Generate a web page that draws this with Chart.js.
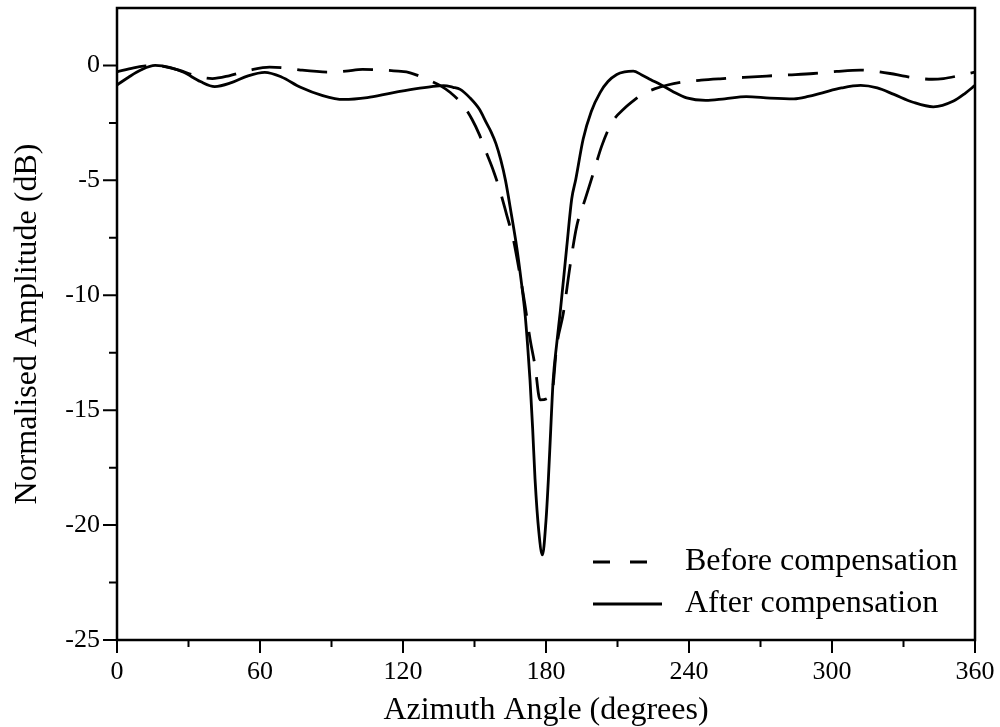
<!DOCTYPE html>
<html>
<head>
<meta charset="utf-8">
<title>Normalised Amplitude vs Azimuth Angle</title>
<script src="https://cdn.jsdelivr.net/npm/chart.js@4.4.1/dist/chart.umd.min.js"></script>
<style>
  html, body { margin: 0; padding: 0; background: #fff; }
  #wrap { width: 1000px; height: 727px; }
</style>
</head>
<body>
<div id="wrap"><canvas id="resultsChart" width="1000" height="727"></canvas></div>
<script>
'use strict';

// Before compensation (dashed curve)
let beforeAngle = [0, 7, 12, 16, 20, 26, 33, 40, 47, 56, 64, 70, 77, 89, 96, 103, 112, 118, 123, 131, 136, 140, 145, 149, 152, 155, 158, 160.7, 163.5, 166.3, 168.4, 171, 173.3, 175.4, 177.5, 182.4, 184.5, 187.3, 190.1, 192.9, 196.4, 199.9, 203.4, 207.6, 212.5, 217.4, 221, 225.8, 231, 237.7, 245, 253, 263, 272.6, 282, 292.2, 302, 311.8, 318, 324.4, 331, 337, 342, 346.8, 353, 360];
let beforeDb = [-0.28, -0.1, -0.02, 0, -0.05, -0.2, -0.45, -0.57, -0.45, -0.2, -0.07, -0.1, -0.2, -0.29, -0.25, -0.17, -0.2, -0.25, -0.32, -0.65, -0.9, -1.19, -1.7, -2.35, -3.0, -3.8, -4.6, -5.45, -6.5, -7.57, -8.72, -10.3, -11.9, -13.07, -14.55, -14.3, -12.2, -10.76, -8.72, -6.99, -5.83, -4.67, -3.5, -2.49, -1.91, -1.48, -1.22, -1.01, -0.85, -0.72, -0.64, -0.58, -0.52, -0.46, -0.41, -0.35, -0.26, -0.2, -0.25, -0.35, -0.48, -0.57, -0.6, -0.57, -0.45, -0.29];

// After compensation (solid curve)
let afterAngle = [0, 5, 10, 16, 22, 28, 35, 41, 48, 55, 62, 69, 77, 86, 95, 105, 115, 125, 132, 137, 141, 144, 148, 152, 155, 157, 159, 161, 163, 165.5, 167.7, 169.5, 171.2, 172.3, 173.3, 174.4, 175.4, 177, 178.5, 180, 181, 182, 183, 184.5, 186, 188.7, 190.8, 192.5, 195.6, 199, 202.7, 206, 209.7, 213, 216.6, 220, 224, 228, 233, 239, 247, 255, 264, 274, 284, 290, 296, 304, 312, 319, 326, 334, 342.5, 351, 356, 360];
let afterDb = [-0.85, -0.5, -0.2, 0, -0.08, -0.3, -0.7, -0.92, -0.75, -0.45, -0.3, -0.5, -0.95, -1.3, -1.48, -1.4, -1.2, -1.02, -0.92, -0.88, -0.95, -1.04, -1.4, -1.9, -2.5, -2.9, -3.4, -4.1, -5.0, -6.5, -7.9, -9.3, -10.8, -12.2, -13.7, -15.8, -18, -20.3, -21.3, -19.8, -18, -15.8, -13.7, -12.1, -10.7, -7.9, -5.8, -4.95, -3.2, -2.0, -1.18, -0.7, -0.39, -0.28, -0.25, -0.4, -0.62, -0.83, -1.12, -1.41, -1.52, -1.45, -1.36, -1.42, -1.45, -1.35, -1.19, -0.98, -0.87, -0.98, -1.26, -1.6, -1.8, -1.55, -1.2, -0.87];

// Tick values and labels
let xTickValues = [0, 60, 120, 180, 240, 300, 360];
let xMinorTicks = [30, 90, 150, 210, 270, 330];
let yTickValues = [-25, -20, -15, -10, -5, 0];
let yMinorTicks = [-22.5, -17.5, -12.5, -7.5, -2.5];

let legendLabels = ['Before compensation', 'After compensation'];

let fontFamily = '"Liberation Serif", "Times New Roman", serif';

// Turn the two arrays of a series into the point objects Chart.js wants
function toPoints(xs, ys) {
  let points = [];
  for (let i = 0; i < xs.length; i++) {
    points.push({ x: xs[i], y: ys[i] });
  }
  return points;
}

// Chart.js keeps room for half of the edge labels; the plot here runs to the frame
function noEdgePadding(scale) {
  scale.paddingTop = 0;
  scale.paddingBottom = 0;
  scale.paddingLeft = 0;
  scale.paddingRight = 0;
}

// Draws the frame, the outward tick marks and the legend inside the plot
let framePlugin = {
  id: 'frame',
  afterDraw: function (chart) {
    let ctx = chart.ctx;
    let area = chart.chartArea;
    let xScale = chart.scales.x;
    let yScale = chart.scales.y;

    ctx.save();
    ctx.strokeStyle = '#000';
    ctx.lineWidth = 2.5;
    ctx.setLineDash([]);
    ctx.strokeRect(area.left, area.top, area.right - area.left, area.bottom - area.top);

    // x axis ticks
    ctx.lineWidth = 2;
    ctx.beginPath();
    for (let i = 0; i < xTickValues.length; i++) {
      let px = xScale.getPixelForValue(xTickValues[i]);
      ctx.moveTo(px, area.bottom);
      ctx.lineTo(px, area.bottom + 13);
    }
    for (let i = 0; i < xMinorTicks.length; i++) {
      let px = xScale.getPixelForValue(xMinorTicks[i]);
      ctx.moveTo(px, area.bottom);
      ctx.lineTo(px, area.bottom + 7);
    }
    // y axis ticks
    for (let i = 0; i < yTickValues.length; i++) {
      let py = yScale.getPixelForValue(yTickValues[i]);
      ctx.moveTo(area.left, py);
      ctx.lineTo(area.left - 14, py);
    }
    for (let i = 0; i < yMinorTicks.length; i++) {
      let py = yScale.getPixelForValue(yMinorTicks[i]);
      ctx.moveTo(area.left, py);
      ctx.lineTo(area.left - 8, py);
    }
    ctx.stroke();

    // legend, bottom right inside the plot
    let lineX0 = area.left + 476;
    let textX = area.left + 568;
    let rowY = [area.top + 554, area.top + 596];

    ctx.lineWidth = 2.8;
    ctx.setLineDash([17, 20]);
    ctx.beginPath();
    ctx.moveTo(lineX0, rowY[0]);
    ctx.lineTo(lineX0 + 54, rowY[0]);
    ctx.stroke();

    ctx.setLineDash([]);
    ctx.beginPath();
    ctx.moveTo(lineX0, rowY[1]);
    ctx.lineTo(lineX0 + 69, rowY[1]);
    ctx.stroke();

    ctx.fillStyle = '#000';
    ctx.font = '32px ' + fontFamily;
    ctx.textAlign = 'left';
    ctx.textBaseline = 'middle';
    ctx.fillText(legendLabels[0], textX, rowY[0]);
    ctx.fillText(legendLabels[1], textX, rowY[1]);
    ctx.restore();
  }
};

let ctx = document.getElementById('resultsChart').getContext('2d');

new Chart(ctx, {
  type: 'line',
  data: {
    datasets: [
      {
        label: legendLabels[0],
        data: toPoints(beforeAngle, beforeDb),
        borderColor: '#000',
        borderWidth: 2.8,
        borderDash: [30, 16],
        pointRadius: 0,
        fill: false,
        cubicInterpolationMode: 'monotone'
      },
      {
        label: legendLabels[1],
        data: toPoints(afterAngle, afterDb),
        borderColor: '#000',
        borderWidth: 2.8,
        pointRadius: 0,
        fill: false,
        cubicInterpolationMode: 'monotone'
      }
    ]
  },
  options: {
    responsive: false,
    animation: false,
    devicePixelRatio: 1,
    layout: {
      padding: { top: 8, right: 25, left: 0, bottom: 0 }
    },
    plugins: {
      legend: { display: false },
      tooltip: { enabled: false }
    },
    scales: {
      x: {
        type: 'linear',
        min: 0,
        max: 360,
        grid: { display: false, drawTicks: false },
        border: { display: false },
        afterBuildTicks: function (scale) {
          scale.ticks = xTickValues.map(function (v) { return { value: v }; });
        },
        afterFit: function (scale) {
          scale.height = 87;
          noEdgePadding(scale);
        },
        ticks: {
          padding: 17,
          color: '#000',
          maxRotation: 0,
          font: { family: fontFamily, size: 26 }
        },
        title: {
          display: true,
          text: 'Azimuth Angle (degrees)',
          color: '#000',
          padding: { top: -2, bottom: 0 },
          font: { family: fontFamily, size: 32, lineHeight: 1 }
        }
      },
      y: {
        type: 'linear',
        min: -25,
        max: 2.5,
        grid: { display: false, drawTicks: false },
        border: { display: false },
        afterBuildTicks: function (scale) {
          scale.ticks = yTickValues.map(function (v) { return { value: v }; });
        },
        afterFit: function (scale) {
          scale.width = 117;
          noEdgePadding(scale);
        },
        ticks: {
          padding: 17,
          color: '#000',
          font: { family: fontFamily, size: 26 }
        },
        title: {
          display: true,
          text: 'Normalised Amplitude (dB)',
          color: '#000',
          padding: { top: 12, bottom: 0 },
          font: { family: fontFamily, size: 32, lineHeight: 1 }
        }
      }
    }
  },
  plugins: [framePlugin]
});
</script>
</body>
</html>
